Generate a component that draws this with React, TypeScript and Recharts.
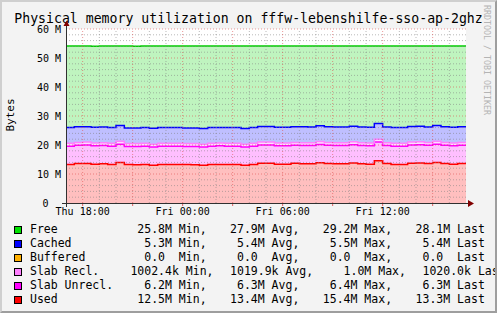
import React from "react";
import { ComposedChart, Area, XAxis, YAxis, ReferenceLine, CartesianGrid } from "recharts";

const MONO = '"DejaVu Sans Mono", monospace';

// time in hours relative to Thu 18:00, 30 min steps
const hours = [
  -1, -0.5, 0, 0.5, 1, 1.5, 2, 2.5, 3, 3.5, 4, 4.5, 5, 5.5, 6, 6.5, 7, 7.5, 8, 8.5, 9, 9.5, 10, 10.5, 11,
  11.5, 12, 12.5, 13, 13.5, 14, 14.5, 15, 15.5, 16, 16.5, 17, 17.5, 18, 18.5, 19, 19.5, 20, 20.5, 21, 21.5,
  22, 22.5, 23,
];

// values in MB
const used = [
  13.3, 13.6, 13.6, 13.4, 13.5, 13.3, 14.0, 13.3, 13.2, 13.3, 13.0, 13.3, 13.3, 13.3, 13.3, 13.2, 13.0,
  13.3, 13.3, 13.3, 13.3, 13.0, 13.3, 13.7, 13.7, 13.4, 13.4, 13.7, 13.5, 13.5, 13.9, 13.6, 13.5, 13.5,
  13.8, 13.5, 13.4, 14.6, 13.6, 13.3, 13.3, 13.7, 13.8, 13.6, 14.0, 13.6, 13.4, 13.6, 13.5,
];
const slabUnrecl = [
  6.3, 6.3, 6.4, 6.3, 6.3, 6.3, 6.3, 6.2, 6.3, 6.3, 6.3, 6.3, 6.3, 6.3, 6.2, 6.3, 6.3, 6.3, 6.4, 6.3, 6.3,
  6.3, 6.3, 6.3, 6.3, 6.3, 6.3, 6.2, 6.3, 6.3, 6.3, 6.3, 6.3, 6.3, 6.3, 6.3, 6.3, 6.4, 6.2, 6.3, 6.3, 6.3,
  6.3, 6.3, 6.3, 6.3, 6.3, 6.3, 6.3,
];
const slabRecl = [
  1.0, 1.0, 1.0, 0.99, 1.0, 1.0, 1.0, 1.0, 0.98, 1.0, 1.0, 1.0, 1.0, 1.0, 1.0, 1.0, 1.0, 1.0, 1.0, 1.01,
  1.0, 1.0, 1.0, 1.0, 1.0, 1.0, 1.0, 1.0, 1.0, 1.0, 1.0, 1.0, 1.0, 1.0, 1.0, 1.0, 1.0, 1.02, 1.0, 1.0, 1.0,
  1.0, 1.0, 1.0, 1.0, 1.0, 1.0, 1.0, 1.0,
];
const buffered = [
  0, 0, 0, 0, 0, 0, 0, 0, 0, 0, 0, 0, 0, 0, 0, 0, 0, 0, 0, 0, 0, 0, 0, 0, 0, 0, 0, 0, 0, 0, 0, 0, 0, 0, 0,
  0, 0, 0, 0, 0, 0, 0, 0, 0, 0, 0, 0, 0, 0,
];
const cached = [
  5.4, 5.4, 5.3, 5.4, 5.4, 5.4, 5.4, 5.4, 5.4, 5.4, 5.5, 5.4, 5.4, 5.4, 5.4, 5.4, 5.4, 5.4, 5.3, 5.4, 5.4,
  5.4, 5.4, 5.4, 5.4, 5.4, 5.4, 5.4, 5.5, 5.4, 5.4, 5.4, 5.4, 5.4, 5.4, 5.4, 5.4, 5.4, 5.4, 5.4, 5.4, 5.4,
  5.4, 5.3, 5.4, 5.4, 5.4, 5.4, 5.4,
];
const free = [
  28.1, 27.8, 27.8, 28.0, 27.9, 28.1, 27.4, 28.2, 28.2, 28.1, 28.3, 28.1, 28.1, 28.1, 28.2, 28.2, 28.4,
  28.1, 28.1, 28.1, 28.1, 28.4, 28.1, 27.7, 27.7, 28.0, 28.0, 27.8, 27.8, 27.9, 27.5, 27.8, 27.9, 27.9,
  27.6, 27.9, 28.0, 26.7, 27.9, 28.1, 28.1, 27.7, 27.6, 27.9, 27.4, 27.8, 28.0, 27.8, 27.9,
];

const yTicks = [0, 10, 20, 30, 40, 50, 60];
const yMinorGrid = [2, 4, 6, 8, 12, 14, 16, 18, 22, 24, 26, 28, 32, 34, 36, 38, 42, 44, 46, 48, 52, 54, 56, 58];
const xMajorGrid = [0, 3, 6, 9, 12, 15, 18, 21];
const xMinorGrid = [1, 2, 4, 5, 7, 8, 10, 11, 13, 14, 16, 17, 19, 20, 22];
const xLabelHours = [0, 6, 12, 18];
const xLabels = ["Thu 18:00", "Fri 00:00", "Fri 06:00", "Fri 12:00"];

// stacking order bottom -> top
const series = [
  { key: "used", line: "#ff0000", fill: "#ffbfbf" },
  { key: "slabUnrecl", line: "#ff00ff", fill: "#ffbfff" },
  { key: "slabRecl", line: "#ff80ff", fill: "#ffdfff" },
  { key: "buffered", line: "none", fill: "#ffebbf" },
  { key: "cached", line: "#0000ff", fill: "#bfbfff" },
  { key: "free", line: "#00d000", fill: "#bff4bf" },
];

const legendNames = ["Free", "Cached", "Buffered", "Slab Recl.", "Slab Unrecl.", "Used"];
const legendColors = ["#00e000", "#0000ff", "#ffb000", "#ff80ff", "#ff00ff", "#ff0000"];
const legendMin = [" 25.8M", "  5.3M", "  0.0 ", "1002.4k", "  6.2M", " 12.5M"];
const legendAvg = [" 27.9M", "  5.4M", "  0.0 ", "1019.9k", "  6.3M", " 13.4M"];
const legendMax = [" 29.2M", "  5.5M", "  0.0 ", "  1.0M", "  6.4M", " 15.4M"];
const legendLast = [" 28.1M", "  5.4M", "  0.0 ", "1020.0k", "  6.3M", " 13.3M"];

const data = hours.map((h, i) => ({
  h,
  used: used[i],
  slabUnrecl: slabUnrecl[i],
  slabRecl: slabRecl[i],
  buffered: buffered[i],
  cached: cached[i],
  free: free[i],
}));

const W = 497;
const H = 313;
const LEFT = 66;
const TOP = 29;
const RIGHT = 466;
const BOTTOM = 203;

const CHAR_W = 11.5 * 0.602;
const GROUP_GAP = 16.6;

function YTick(props: any) {
  const { x, y, payload } = props;
  const v = payload.value;
  return (
    <text x={v === 0 ? x - 12.5 : x} y={y} dy="0.35em" textAnchor="end" fontFamily={MONO} fontSize={10} fill="#000">
      {v === 0 ? "0" : `${v} M`}
    </text>
  );
}

function XTick(props: any) {
  const { x, y, payload } = props;
  const idx = xLabelHours.indexOf(payload.value);
  if (idx < 0) return <g />;
  return (
    <text x={x} y={y} dy="0.71em" textAnchor="middle" fontFamily={MONO} fontSize={10} fill="#000">
      {xLabels[idx]}
    </text>
  );
}

function LegendRow({ i }: { i: number }) {
  const base = 232.5 + i * 14;
  const groups = [
    `${legendMin[i]} Min,`,
    `${legendAvg[i]} Avg,`,
    `${legendMax[i]} Max,`,
    `${legendLast[i]} Last`,
  ];
  let x = 130.4;
  const items = groups.map((g, k) => {
    const el = (
      <text key={k} x={x} y={base} xmlSpace="preserve" style={{ whiteSpace: "pre" }}>
        {g}
      </text>
    );
    x += g.length * CHAR_W + GROUP_GAP;
    return el;
  });
  return (
    <g fontFamily={MONO} fontSize={11.5} fill="#000">
      <rect x={14.5} y={base - 6} width={7} height={7} fill={legendColors[i]} stroke="#000" strokeWidth={1} />
      <text x={30} y={base}>{legendNames[i]}</text>
      {items}
    </g>
  );
}

export default function App() {
  return (
    <div style={{ position: "absolute", left: 0, top: 0, width: W, height: H, background: "#f3f3f3", overflow: "hidden" }}>
      <div style={{ position: "absolute", left: 0, top: 0 }}>
        <ComposedChart
          width={W}
          height={H}
          data={data}
          margin={{ top: TOP, right: W - RIGHT, bottom: H - BOTTOM - 20, left: 0 }}
        >
          <CartesianGrid horizontal={false} vertical={false} fill="#ffffff" />
          <XAxis
            dataKey="h"
            type="number"
            domain={[-1, 23]}
            allowDataOverflow
            ticks={xMajorGrid}
            height={20}
            axisLine={false}
            tickLine={{ stroke: "#e06060" }}
            tickSize={3}
            tickMargin={2}
            tick={<XTick />}
            interval={0}
          />
          <YAxis
            type="number"
            domain={[0, 60]}
            allowDataOverflow
            ticks={yTicks}
            width={LEFT}
            axisLine={false}
            tickLine={false}
            tickSize={0}
            tickMargin={5}
            tick={<YTick />}
            interval={0}
          />
          {series.map((s) => (
            <Area
              key={`f-${s.key}`}
              dataKey={s.key}
              stackId="fill"
              type="stepAfter"
              fill={s.fill}
              fillOpacity={1}
              stroke="none"
              dot={false}
              activeDot={false}
              isAnimationActive={false}
            />
          ))}
          {series.map((s) => (
            <Area
              key={`l-${s.key}`}
              dataKey={s.key}
              stackId="line"
              type="stepAfter"
              fill="none"
              stroke={s.line}
              strokeWidth={1.5}
              dot={false}
              activeDot={false}
              isAnimationActive={false}
            />
          ))}
          {yMinorGrid.map((v) => (
            <ReferenceLine key={`ym${v}`} y={v} stroke="rgba(130,130,130,0.55)" strokeDasharray="1 2" />
          ))}
          {xMinorGrid.map((v) => (
            <ReferenceLine key={`xm${v}`} x={v} stroke="rgba(130,130,130,0.55)" strokeDasharray="1 2" />
          ))}
          {yTicks.slice(1).map((v) => (
            <ReferenceLine key={`yM${v}`} y={v} stroke="rgba(222,80,80,0.6)" strokeDasharray="1 2" />
          ))}
          {xMajorGrid.map((v) => (
            <ReferenceLine key={`xM${v}`} x={v} stroke="rgba(222,80,80,0.6)" strokeDasharray="1 2" />
          ))}
        </ComposedChart>
      </div>
      <svg width={W} height={H} style={{ position: "absolute", left: 0, top: 0, pointerEvents: "none" }}>
        <text x={248.5} y={23} textAnchor="middle" fontFamily={MONO} fontSize={13.2} fill="#000">
          Physical memory utilization on fffw-lebenshilfe-sso-ap-2ghz
        </text>
        <text
          x={14}
          y={115}
          transform="rotate(-90 14 115)"
          textAnchor="middle"
          fontFamily={MONO}
          fontSize={11}
          fill="#000"
        >
          Bytes
        </text>
        <text
          x={484}
          y={60}
          transform="rotate(90 484 60)"
          textAnchor="middle"
          fontFamily={MONO}
          fontSize={8.3}
          fill="#b4b4b4"
        >
          RRDTOOL / TOBI OETIKER
        </text>
        {/* axes with arrows */}
        <path d={`M62,${BOTTOM + 0.5}H470`} stroke="#303030" strokeWidth={1} />
        <path d={`M${RIGHT + 2},${BOTTOM - 3}L${RIGHT + 8},${BOTTOM + 0.5}L${RIGHT + 2},${BOTTOM + 4}Z`} fill="#800000" />
        <path d={`M${LEFT + 0.5},${BOTTOM + 4}V${TOP - 3}`} stroke="#303030" strokeWidth={1} />
        <path d={`M${LEFT - 2.5},${TOP - 3}L${LEFT + 0.5},${TOP - 8.5}L${LEFT + 3.5},${TOP - 3}Z`} fill="#800000" />
        {legendNames.map((_, i) => (
          <LegendRow key={i} i={i} />
        ))}
      </svg>
      <div
        style={{
          position: "absolute",
          left: 0,
          top: 0,
          width: W,
          height: H,
          boxSizing: "border-box",
          borderTop: "2px solid #cfcfcf",
          borderLeft: "2px solid #cfcfcf",
          borderRight: "2px solid #9e9e9e",
          borderBottom: "2px solid #9e9e9e",
          pointerEvents: "none",
        }}
      />
    </div>
  );
}
